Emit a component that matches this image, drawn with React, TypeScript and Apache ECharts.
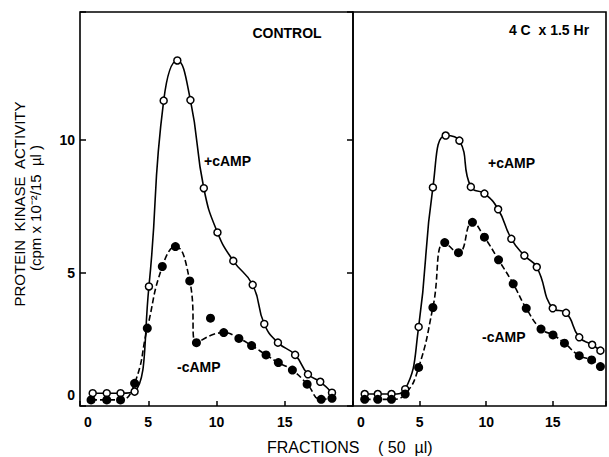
import React, { useEffect, useRef } from 'react';
import * as echarts from 'echarts';

// Fractions (50 µl) and protein kinase activity (cpm x 10^-2 / 15 µl)
const ctrlPlusX = [0.93, 1.96, 2.97, 4.0, 5.05, 6.13, 7.13, 8.09, 9.07, 10.07, 11.23, 12.65, 13.5, 14.5, 15.76, 16.7, 17.6, 18.46];
const ctrlPlusY = [0.48, 0.48, 0.48, 0.54, 4.49, 11.47, 12.98, 11.49, 8.18, 6.52, 5.45, 4.55, 3.08, 2.38, 1.92, 1.19, 0.91, 0.5];
const ctrlMinusX = [0.81, 1.96, 2.97, 4.0, 4.93, 6.03, 6.99, 8.04, 8.53, 9.56, 10.53, 11.64, 12.57, 13.63, 14.53, 15.56, 16.64, 17.67, 18.46];
const ctrlMinusY = [0.23, 0.23, 0.23, 0.85, 2.92, 5.24, 5.99, 4.7, 2.38, 3.3, 2.76, 2.54, 2.27, 1.92, 1.63, 1.35, 0.82, 0.25, 0.29];
const ctrlMinusOffCurve = [9];

const coldPlusX = [0.88, 1.86, 2.89, 3.92, 4.93, 6.0, 6.96, 7.99, 8.85, 9.87, 10.9, 11.89, 12.87, 13.8, 15.0, 16.0, 16.99, 17.96, 18.58];
const coldPlusY = [0.45, 0.45, 0.45, 0.63, 2.97, 8.21, 10.16, 9.97, 8.23, 7.98, 7.39, 6.28, 5.65, 5.22, 3.67, 3.5, 2.58, 2.3, 2.08];
const coldMinusX = [0.88, 1.86, 2.89, 3.92, 4.93, 6.0, 6.89, 7.92, 8.97, 9.87, 10.93, 12.03, 13.01, 14.12, 15.02, 15.88, 16.99, 17.92, 18.58];
const coldMinusY = [0.25, 0.25, 0.25, 0.45, 1.45, 3.7, 6.14, 5.76, 6.9, 6.34, 5.49, 4.59, 3.67, 2.89, 2.67, 2.36, 1.89, 1.73, 1.48];

const panelTitles = ['CONTROL', '4 C  x 1.5 Hr'];
const seriesLabels = ['+cAMP', '-cAMP'];
const xTicks = [0, 5, 10, 15];
const yTicks = [0, 5, 10];

const FONT = '"Liberation Sans", Arial, Helvetica, sans-serif';

const pts = (xs: number[], ys: number[]) => xs.map((x, i) => [x, ys[i]]);
const curve = (xs: number[], ys: number[], skip: number[] = []) =>
  pts(xs, ys).filter((_, i) => !skip.includes(i));

export default function App() {
  const ref = useRef<HTMLDivElement>(null);

  useEffect(() => {
    if (!ref.current) return;
    const chart = echarts.init(ref.current, undefined, { renderer: 'svg' });

    const xLabel = {
      color: '#000',
      fontSize: 14,
      fontWeight: 'bold',
      fontFamily: FONT,
      margin: 9,
      formatter: (v: number) => (xTicks.includes(v) ? (v === 0 ? '{z|0}' : String(v)) : ''),
      rich: { z: { padding: [0, 0, 0, 16], fontSize: 14, fontWeight: 'bold', fontFamily: FONT, color: '#000' } },
    };
    const tick = { inside: true, length: 5, lineStyle: { color: '#000', width: 1.5 } };

    const lineBase = (xi: number, data: number[][], dashed: boolean) => ({
      type: 'line',
      xAxisIndex: xi,
      yAxisIndex: xi,
      data,
      smooth: 0.5,
      showSymbol: false,
      symbol: 'none',
      silent: true,
      z: 2,
      lineStyle: { color: '#000', width: 1.6, type: dashed ? [6, 3] : 'solid' },
    });
    const dots = (xi: number, data: number[][], filled: boolean) => ({
      type: 'scatter',
      xAxisIndex: xi,
      yAxisIndex: xi,
      data,
      symbol: 'circle',
      symbolSize: filled ? 9 : 7,
      silent: true,
      z: 3,
      itemStyle: filled
        ? { color: '#000', borderColor: '#000', borderWidth: 0, opacity: 1 }
        : { color: '#fff', borderColor: '#000', borderWidth: 1.5, opacity: 1 },
    });

    const txt = (text: string, x: number, y: number, size: number, weight: string, align = 'left', rotation = 0) => ({
      type: 'text',
      x,
      y,
      rotation,
      silent: true,
      style: { text, fill: '#000', fontSize: size, fontWeight: weight, fontFamily: FONT, align, verticalAlign: 'middle' },
    });

    chart.setOption({
      animation: false,
      backgroundColor: '#fff',
      grid: [
        { left: 80, top: 12, width: 273, height: 394, show: true, borderColor: '#000', borderWidth: 1.6, backgroundColor: 'transparent' },
        { left: 353, top: 12, width: 259, height: 394, show: true, borderColor: '#000', borderWidth: 1.6, backgroundColor: 'transparent' },
      ],
      xAxis: [
        { gridIndex: 0, type: 'value', min: 0, max: 20, interval: 5, axisLine: { show: false }, splitLine: { show: false }, axisTick: tick, axisLabel: xLabel },
        { gridIndex: 1, type: 'value', min: 0, max: 19, interval: 5, axisLine: { show: false }, splitLine: { show: false }, axisTick: tick, axisLabel: xLabel },
      ],
      yAxis: [
        {
          gridIndex: 0, type: 'value', min: 0, max: 14.8, interval: 5,
          axisLine: { show: false }, splitLine: { show: false },
          axisTick: { ...tick, length: 6 },
          axisLabel: {
            color: '#000', fontSize: 14, fontWeight: 'bold', fontFamily: FONT, margin: 5,
            formatter: (v: number) => (yTicks.includes(v) ? (v === 0 ? '{z|0}' : String(v)) : ''),
            rich: { z: { padding: [0, 0, 22, 0], fontSize: 14, fontWeight: 'bold', fontFamily: FONT, color: '#000' } },
          },
        },
        {
          gridIndex: 1, type: 'value', position: 'right', min: 0, max: 14.8, interval: 5,
          axisLine: { show: false }, splitLine: { show: false },
          axisTick: { ...tick, length: 6 },
          axisLabel: { show: false },
        },
      ],
      series: [
        lineBase(0, curve(ctrlPlusX, ctrlPlusY), false),
        lineBase(0, curve(ctrlMinusX, ctrlMinusY, ctrlMinusOffCurve), true),
        dots(0, pts(ctrlPlusX, ctrlPlusY), false),
        dots(0, pts(ctrlMinusX, ctrlMinusY), true),
        lineBase(1, curve(coldPlusX, coldPlusY), false),
        lineBase(1, curve(coldMinusX, coldMinusY), true),
        dots(1, pts(coldPlusX, coldPlusY), false),
        dots(1, pts(coldMinusX, coldMinusY), true),
      ],
      graphic: [
        txt(panelTitles[0], 287, 33, 14, 'bold', 'center'),
        txt(panelTitles[1], 549, 30, 14, 'bold', 'center'),
        txt(seriesLabels[0], 204, 161, 14, 'bold'),
        txt(seriesLabels[1], 177, 367, 14, 'bold'),
        txt(seriesLabels[0], 488, 163, 14, 'bold'),
        txt(seriesLabels[1], 482, 337, 14, 'bold'),
        txt('PROTEIN  KINASE  ACTIVITY', 19, 204, 15, 'normal', 'center', Math.PI / 2),
        txt('(cpm x 10\u207B\u00B2/15  \u00B5l )', 35, 208, 15, 'normal', 'center', Math.PI / 2),
        txt('FRACTIONS', 267, 447, 16, 'normal'),
        txt('( 50  \u00B5l)', 378, 447, 16, 'normal'),
      ],
    });

    return () => chart.dispose();
  }, []);

  return (
    <div
      ref={ref}
      style={{ position: 'fixed', left: 0, top: 0, width: 609, height: 457, background: '#fff' }}
    />
  );
}
